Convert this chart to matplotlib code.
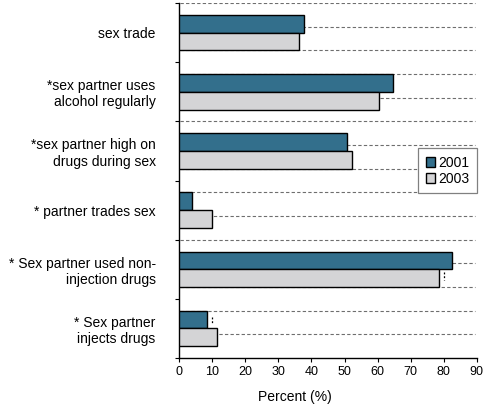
import matplotlib
matplotlib.use('Agg')
import matplotlib.pyplot as plt
import numpy as np

plt.rcParams['font.family'] = ['Liberation Sans', 'DejaVu Sans']

# data
categories = ['sex trade',
              '*sex partner uses\nalcohol regularly',
              '*sex partner high on\ndrugs during sex',
              '* partner trades sex',
              '* Sex partner used non-\ninjection drugs',
              '* Sex partner\ninjects drugs']
pct_2001 = [37.8, 64.6, 50.9, 3.9, 82.4, 8.5]
pct_2003 = [36.3, 60.5, 52.3, 9.8, 78.7, 11.5]
series_names = ['2001', '2003']
xticks = list(range(0, 100, 10))

col_2001 = '#336f8c'
col_2003 = '#d4d4d6'

fig = plt.figure(figsize=(4.87, 4.08), dpi=100)
ax = fig.add_axes([179.3 / 487, 50 / 408, 297.4 / 487, 355 / 408])

y = np.arange(len(categories))
h = 0.3

# dashed guide lines sitting behind the bars
grid_y = np.arange(-0.5, len(categories) - 0.5, 0.4)
ax.hlines(grid_y, 0.3, 89.5, colors='#6e6e6e', linestyles=(0, (3, 2)),
          linewidth=0.8, zorder=1)
# stray vertical dashes
ax.vlines([80, 10], [4.05, 4.81], [4.19, 4.93], colors='black',
          linestyles=(0, (1.5, 1.5)), linewidth=0.9, zorder=1)

ax.barh(y - h / 2, pct_2001, height=h, color=col_2001, edgecolor='black',
        linewidth=1.0, label=series_names[0], zorder=3)
ax.barh(y + h / 2, pct_2003, height=h, color=col_2003, edgecolor='black',
        linewidth=1.0, label=series_names[1], zorder=3)

ax.set_xlim(0, 90)
ax.set_ylim(len(categories) - 0.5, -0.5)

for s in ['top', 'right']:
    ax.spines[s].set_visible(False)
for s in ['left', 'bottom']:
    ax.spines[s].set_linewidth(1.0)

ax.set_xticks(xticks)
ax.tick_params(axis='x', direction='out', length=3, width=0.8, labelsize=9, pad=2.5)

ax.set_yticks(y)
ax.set_yticklabels(categories, fontsize=10, ha='right', multialignment='right')
ax.tick_params(axis='y', which='major', length=0, pad=17)
ax.set_yticks(np.arange(-0.5, len(categories), 1.0), minor=True)
ax.tick_params(axis='y', which='minor', direction='out', length=3, width=0.8)

fig.text(295 / 487, 1 - 397 / 408, 'Percent (%)', ha='center', va='center', fontsize=10)

leg = ax.legend(loc='upper right', bbox_to_anchor=(477 / 487, 1 - 148 / 408),
                bbox_transform=fig.transFigure, borderaxespad=0, fontsize=10,
                fancybox=False, framealpha=1, edgecolor='#808080',
                handlelength=0.7, handleheight=0.7, handletextpad=0.2,
                labelspacing=0.15, borderpad=0.55)
leg.get_frame().set_linewidth(0.9)
leg.set_zorder(5)

fig.savefig('out.png', dpi=100)
